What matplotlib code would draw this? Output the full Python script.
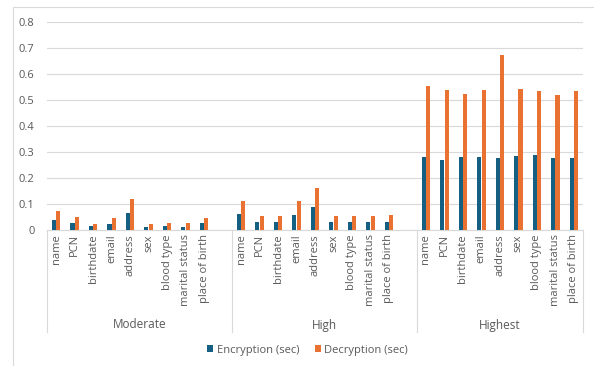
import matplotlib.pyplot as plt
import matplotlib.patches as mpatches
import matplotlib.transforms as mtransforms

plt.rcParams['font.family'] = ['Open Sans', 'DejaVu Sans']

fields = ['name', 'PCN', 'birthdate', 'email', 'address', 'sex',
          'blood type', 'marital status', 'place of birth']
levels = ['Moderate', 'High', 'Highest']

encryption = {
    'Moderate': [0.038, 0.028, 0.014, 0.023, 0.065, 0.013, 0.014, 0.012, 0.026],
    'High': [0.062, 0.030, 0.031, 0.059, 0.090, 0.030, 0.030, 0.030, 0.031],
    'Highest': [0.279, 0.269, 0.279, 0.282, 0.277, 0.286, 0.287, 0.278, 0.278],
}
decryption = {
    'Moderate': [0.073, 0.050, 0.024, 0.047, 0.119, 0.023, 0.026, 0.026, 0.047],
    'High': [0.110, 0.055, 0.055, 0.112, 0.163, 0.054, 0.054, 0.055, 0.056],
    'Highest': [0.553, 0.537, 0.522, 0.538, 0.674, 0.541, 0.535, 0.518, 0.535],
}

blue = '#156082'
orange = '#E97132'
grey_txt = '#595959'
grid_col = '#d9d9d9'

W, H = 594, 366
fig = plt.figure(figsize=(W / 100, H / 100), dpi=100)

# chart frame
fig.patches.append(mpatches.Rectangle((13 / W, -0.1), 1.2, (366 - 7) / H + 0.1,
                                      transform=fig.transFigure, fill=False,
                                      edgecolor=grid_col, lw=0.8))

ax = fig.add_axes([47 / W, (H - 230) / H, (583 - 47) / W, (230 - 22) / H])

# each level occupies 9 slots, with one blank slot after the first two groups
positions, labels, group_spans = [], [], []
start = 0
for i, lvl in enumerate(levels):
    xs = [start + k for k in range(len(fields))]
    positions.append(xs)
    labels += fields
    end = start + len(fields) + (1 if i < len(levels) - 1 else 0)
    group_spans.append((start - 0.5, end - 0.5))
    start = end

bw = 0.22
for lvl, xs in zip(levels, positions):
    ax.bar([x - 0.12 for x in xs], encryption[lvl], width=bw, color=blue,
           label='Encryption (sec)' if lvl == levels[0] else None, zorder=3)
    ax.bar([x + 0.12 for x in xs], decryption[lvl], width=bw, color=orange,
           label='Decryption (sec)' if lvl == levels[0] else None, zorder=3)

ax.set_ylim(0, 0.8)
ax.set_xlim(-0.5, group_spans[-1][1])
ax.set_yticks([i / 10 for i in range(9)])
ax.set_yticklabels(['0'] + [f'{i / 10:.1f}' for i in range(1, 9)])
ax.grid(axis='y', color=grid_col, lw=0.8, zorder=0)

all_x = [x for xs in positions for x in xs]
ax.set_xticks(all_x)
ax.set_xticklabels(labels, rotation=90, va='top', ha='center')
ax.tick_params(axis='both', length=0, colors=grey_txt, labelsize=8)
ax.tick_params(axis='y', pad=9)
ax.tick_params(axis='x', pad=3)

for s in ['top', 'right', 'left']:
    ax.spines[s].set_visible(False)
ax.spines['bottom'].set_color(grid_col)
ax.spines['bottom'].set_linewidth(0.8)

trans = mtransforms.blended_transform_factory(ax.transData, ax.transAxes)
sep_bottom = -(332 - 230) / 208
seps = sorted({b for span in group_spans for b in span})
for x in seps:
    ax.plot([x, x], [0, sep_bottom], transform=trans, color=grid_col, lw=0.8,
            clip_on=False)
for lvl, (a, b) in zip(levels, group_spans):
    ax.text((a + b) / 2, -(325 - 230) / 208, lvl, transform=trans,
            ha='center', va='center', fontsize=8.5, color=grey_txt)

fig.legend(loc='center', bbox_to_anchor=(307.5 / W, (H - 350) / H), ncol=2,
           frameon=False, fontsize=8, handlelength=0.55, handleheight=0.55,
           handletextpad=0.3, columnspacing=1.4, labelcolor=grey_txt)

fig.savefig('out.png', dpi=100)
